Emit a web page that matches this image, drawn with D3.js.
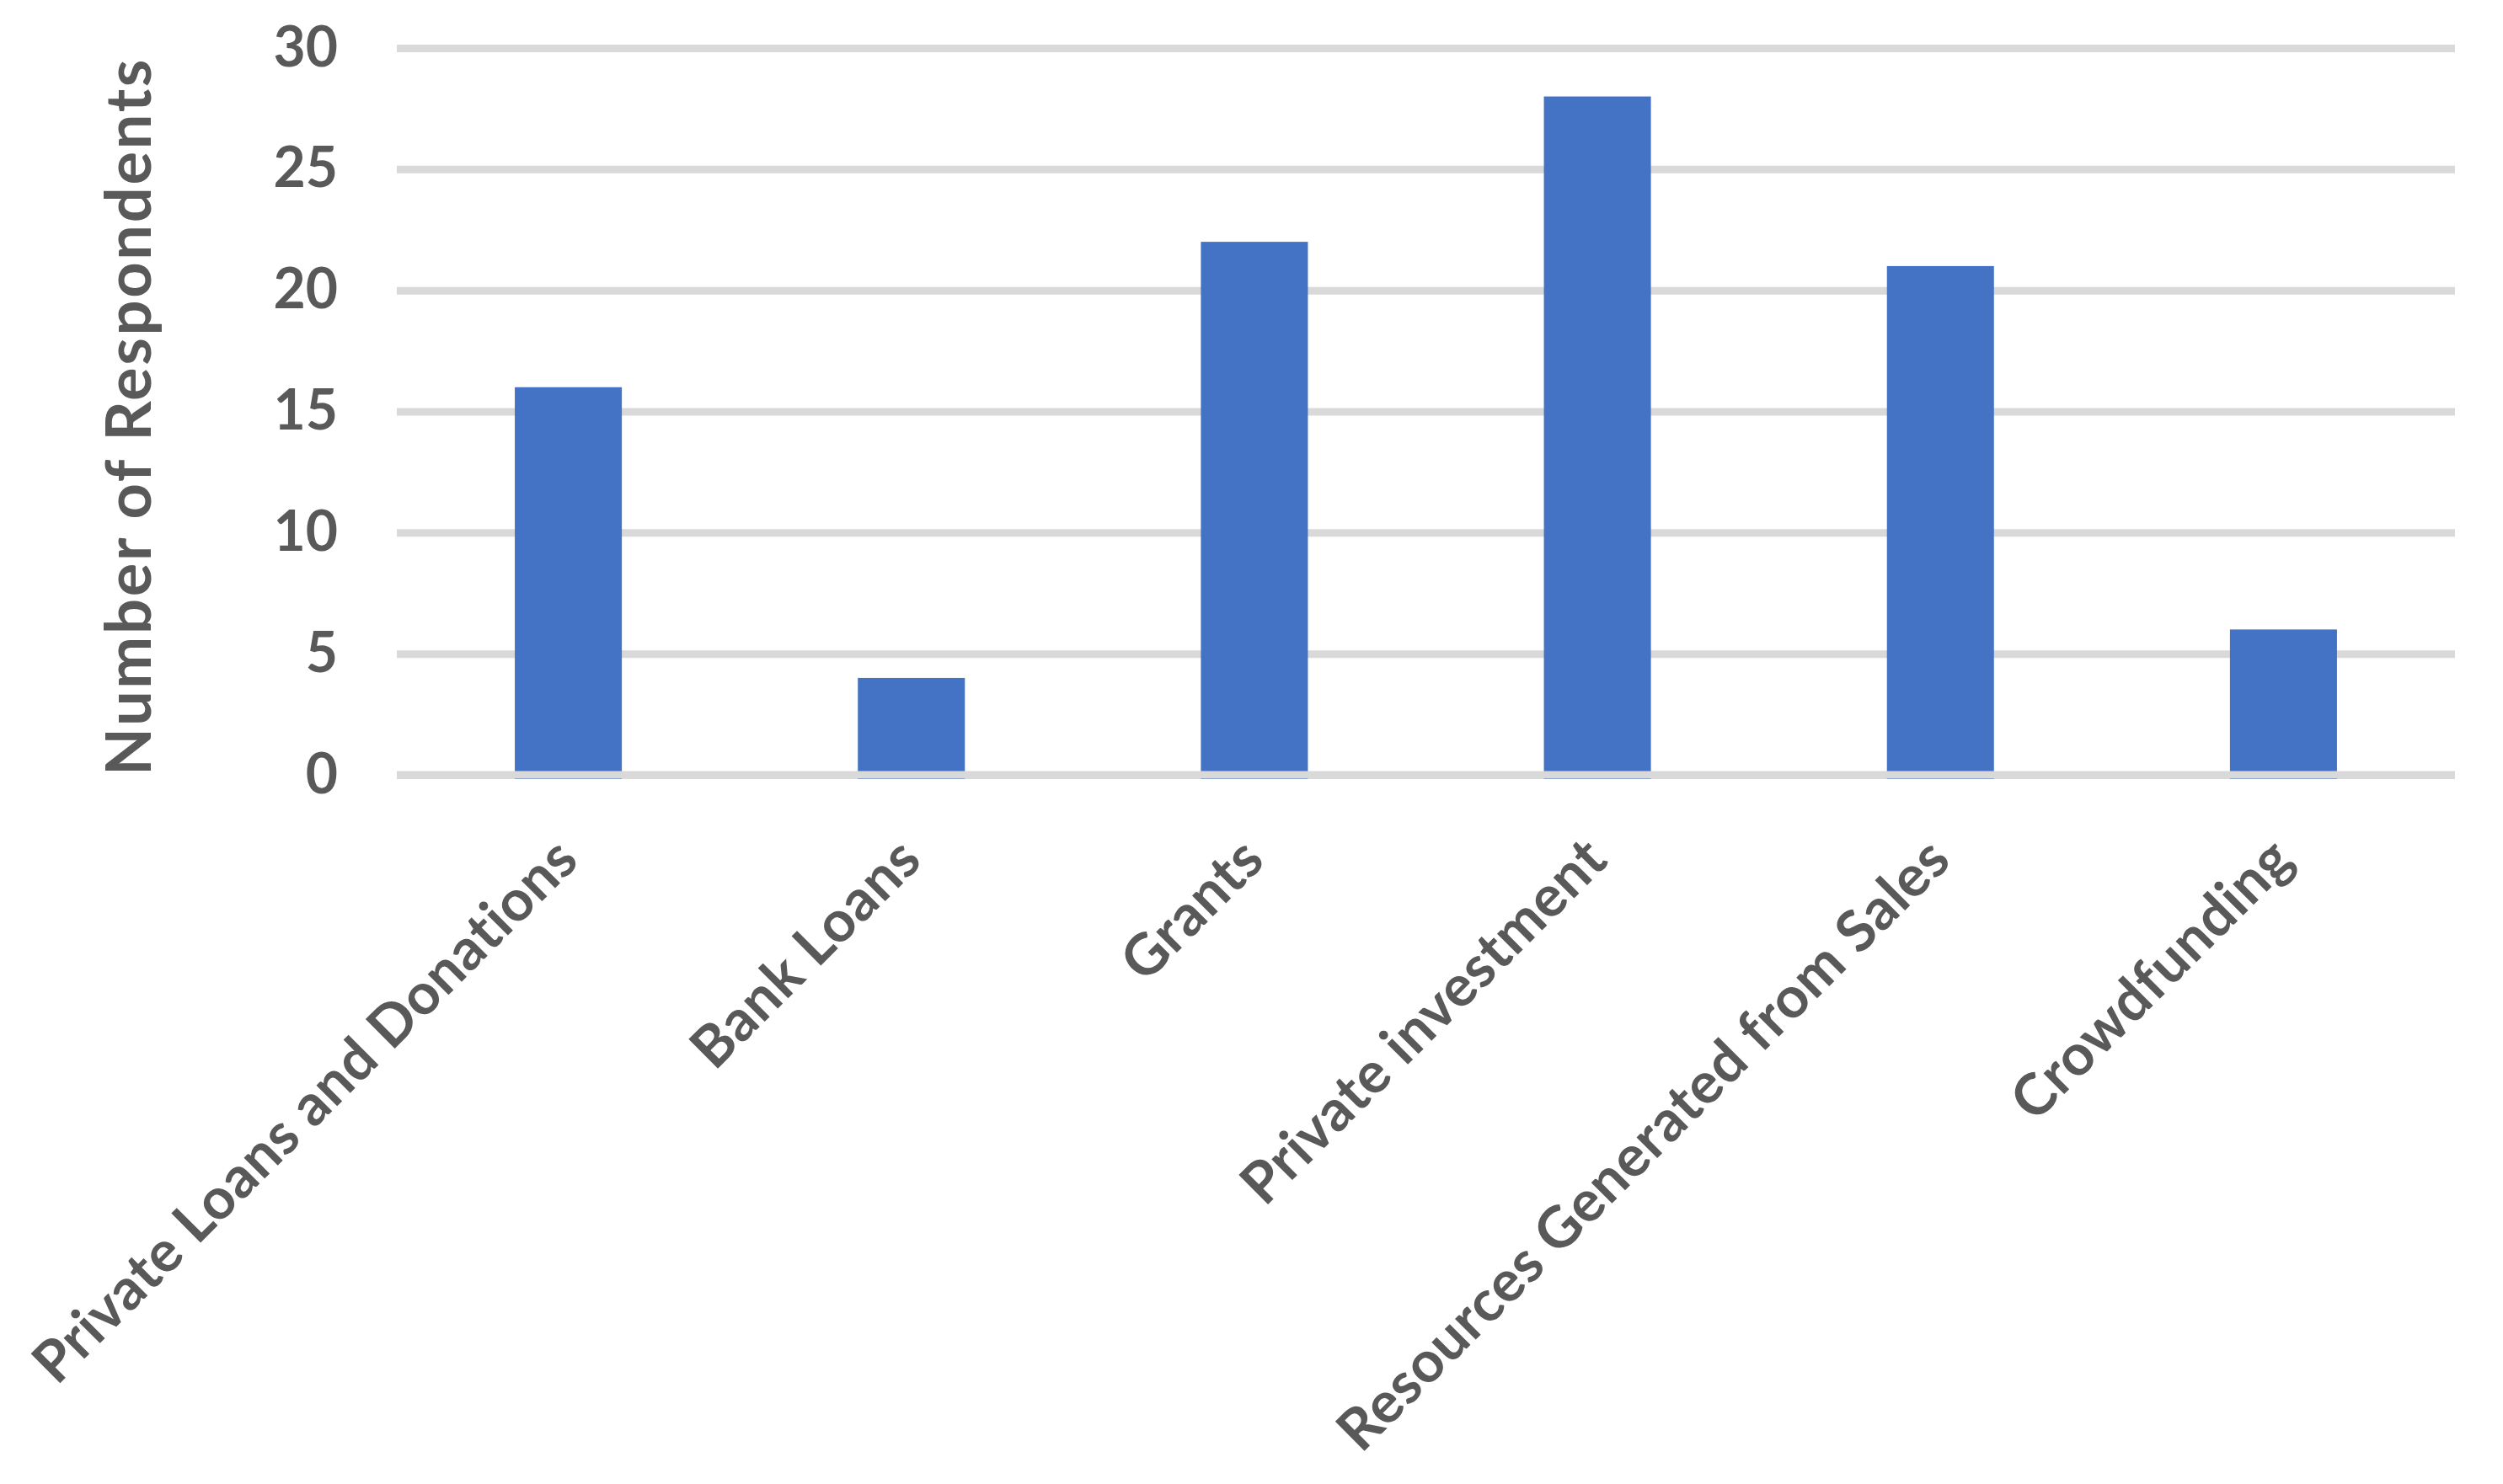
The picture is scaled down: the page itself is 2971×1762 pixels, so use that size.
<!DOCTYPE html>
<html>
<head>
<meta charset="utf-8">
<script src="https://cdn.jsdelivr.net/npm/d3@7"></script>
<style>
  html, body { margin: 0; padding: 0; background: #fff; }
  svg { display: block; font-family: Lato, "Open Sans", sans-serif; }
</style>
</head>
<body>
<svg id="chart"></svg>
<script>
// data
const categories = [
    "Private Loans and Donations",
    "Bank Loans",
    "Grants",
    "Private investment",
    "Resources Generated from Sales",
    "Crowdfunding"
];
const respondents = [16, 4, 22, 28, 21, 6];
const yTicks = [0, 5, 10, 15, 20, 25, 30];
const yTitle = "Number of Respondents";

const width = 2971, height = 1762;
const svg = d3.select("#chart")
    .attr("width", width)
    .attr("height", height)
    .attr("viewBox", `0 0 ${width} ${height}`);

// plot area
const plot = { left: 471, right: 2914, top: 57, bottom: 920 };
const textColor = "#595959";
const fontFamily = "Lato, 'Open Sans', sans-serif";

const x = d3.scaleBand()
    .domain(categories)
    .range([plot.left, plot.right])
    .paddingInner(0.688)
    .paddingOuter(0.344);

const y = d3.scaleLinear()
    .domain([0, 30])
    .range([plot.bottom, plot.top]);

// gridlines + y tick labels
const yAxis = svg.append("g")
    .attr("transform", `translate(${plot.left},0)`)
    .call(d3.axisLeft(y)
        .tickValues(yTicks)
        .tickSize(-(plot.right - plot.left))
        .tickPadding(70))
    .attr("font-family", fontFamily);

yAxis.select(".domain").remove();
yAxis.selectAll(".tick line")
    .attr("stroke", "#d9d9d9")
    .attr("stroke-width", 9);
yAxis.selectAll(".tick text")
    .attr("fill", textColor)
    .attr("font-size", 66)
    .attr("font-weight", "bold");

// bars
svg.append("g")
    .selectAll("rect")
    .data(categories)
    .join("rect")
    .attr("x", d => x(d))
    .attr("width", x.bandwidth())
    .attr("y", (d, i) => y(respondents[i]))
    .attr("height", (d, i) => y(0) + 5 - y(respondents[i]))
    .attr("fill", "#4472c4");

// zero line sits over the bars
svg.append("line")
    .attr("x1", plot.left)
    .attr("x2", plot.right)
    .attr("y1", y(0))
    .attr("y2", y(0))
    .attr("stroke", "#d9d9d9")
    .attr("stroke-width", 9);

// rotated category labels
svg.append("g")
    .selectAll("text")
    .data(categories)
    .join("text")
    .attr("transform", d => `translate(${x(d) + x.bandwidth() / 2 + 15},${plot.bottom + 104}) rotate(-45)`)
    .attr("text-anchor", "end")
    .attr("fill", textColor)
    .attr("font-size", 68)
    .attr("letter-spacing", 0.6)
    .attr("font-weight", "bold")
    .text(d => d);

// y axis title
svg.append("text")
    .attr("transform", `translate(179,${(plot.top + plot.bottom) / 2 + 6}) rotate(-90)`)
    .attr("text-anchor", "middle")
    .attr("fill", textColor)
    .attr("font-size", 74)
    .attr("letter-spacing", 2.7)
    .attr("font-weight", "bold")
    .text(yTitle);
</script>
</body>
</html>
